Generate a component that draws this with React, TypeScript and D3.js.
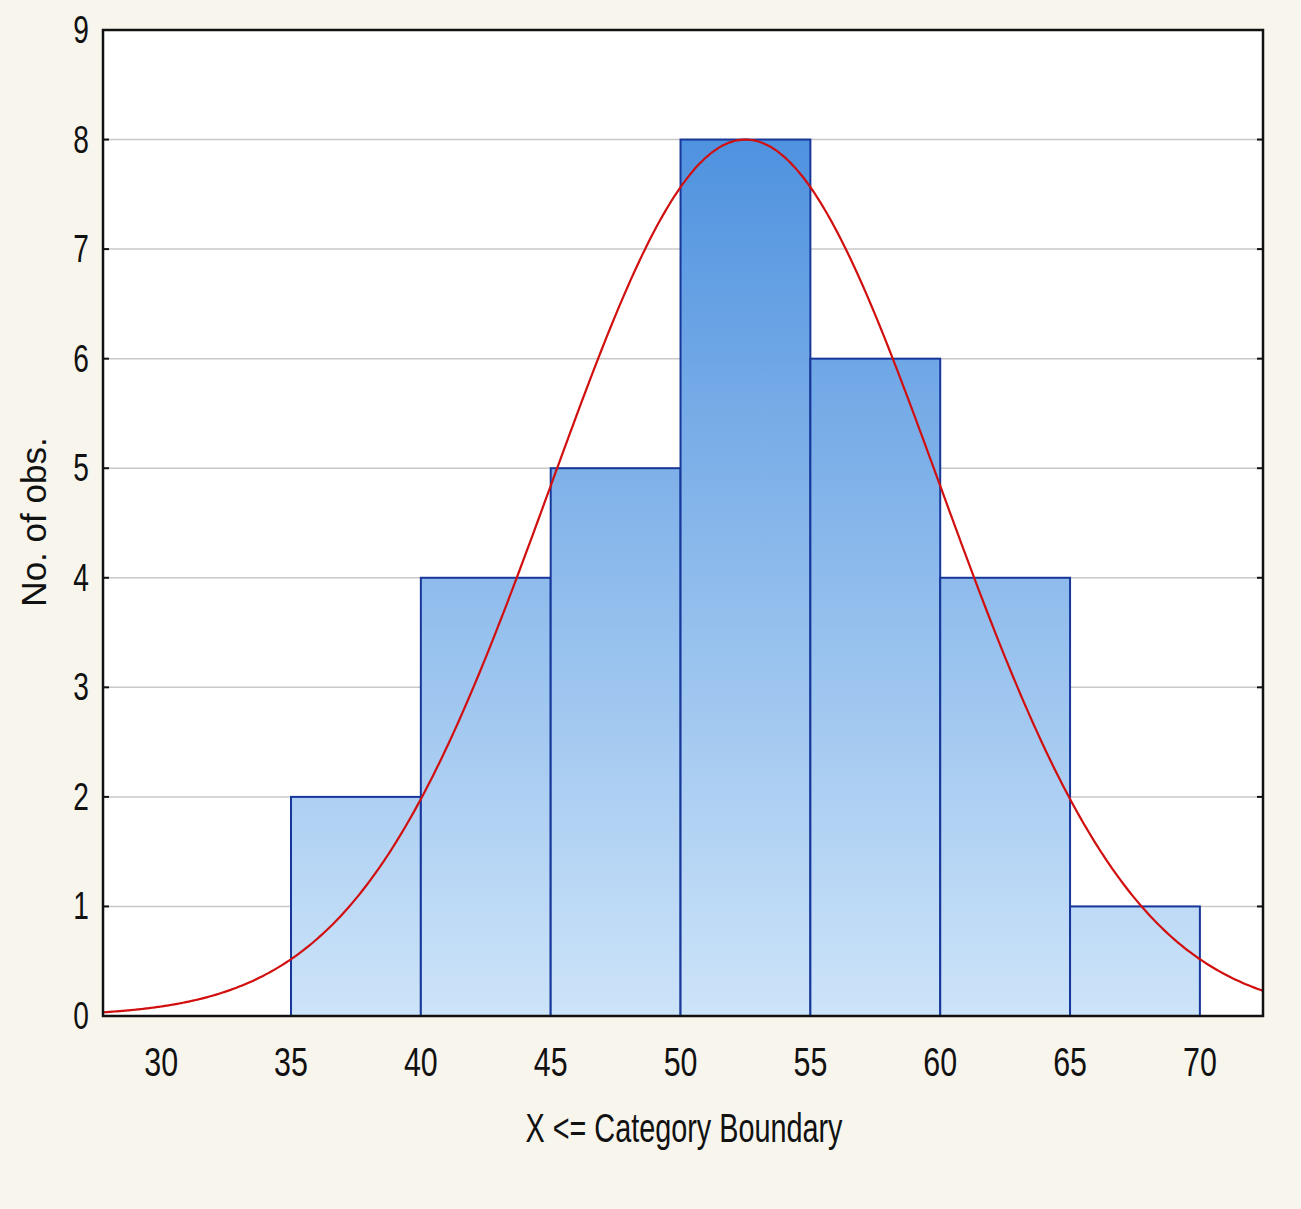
import React, { useEffect, useRef } from "react";
import * as d3 from "d3";

// histogram bins: upper boundaries and counts (X <= boundary)
const binStarts = [35, 40, 45, 50, 55, 60, 65];
const binWidth = 5;
const counts = [2, 4, 5, 8, 6, 4, 1];
const xTicks = [30, 35, 40, 45, 50, 55, 60, 65, 70];
const yTicks = [0, 1, 2, 3, 4, 5, 6, 7, 8, 9];

// fitted normal curve parameters
const fitMean = 52.5;
const fitSd = 7.48;
const xMin = 27.76;
const xMax = 72.43;

const W = 1301;
const H = 1209;
const FONT = "'Liberation Sans', Arial, sans-serif";

function App() {
  const svgRef = useRef<SVGSVGElement>(null);

  useEffect(() => {
    const svg = d3.select(svgRef.current);
    svg.selectAll("*").remove();

    const left = 103;
    const right = 1263;
    const top = 30;
    const bottom = 1016;

    const x = d3.scaleLinear().domain([xMin, xMax]).range([left, right]);
    const y = d3.scaleLinear().domain([0, 9]).range([bottom, top]);

    const defs = svg.append("defs");
    const grad = defs
      .append("linearGradient")
      .attr("id", "barFill")
      .attr("gradientUnits", "userSpaceOnUse")
      .attr("x1", 0)
      .attr("x2", 0)
      .attr("y1", y(8))
      .attr("y2", y(0));
    grad.append("stop").attr("offset", "0%").attr("stop-color", "#4f92df");
    grad.append("stop").attr("offset", "100%").attr("stop-color", "#cde4f9");

    svg.append("rect").attr("width", W).attr("height", H).attr("fill", "#f8f5ed");

    svg
      .append("rect")
      .attr("x", left)
      .attr("y", top)
      .attr("width", right - left)
      .attr("height", bottom - top)
      .attr("fill", "#ffffff");

    // grid
    svg
      .append("g")
      .selectAll("line")
      .data(yTicks.slice(1, -1))
      .join("line")
      .attr("x1", left)
      .attr("x2", right)
      .attr("y1", (d) => y(d))
      .attr("y2", (d) => y(d))
      .attr("stroke", "#c8c8c8")
      .attr("stroke-width", 1.5);

    // bars
    svg
      .append("g")
      .selectAll("rect")
      .data(counts)
      .join("rect")
      .attr("x", (_, i) => x(binStarts[i]))
      .attr("width", (_, i) => x(binStarts[i] + binWidth) - x(binStarts[i]))
      .attr("y", (d) => y(d))
      .attr("height", (d) => y(0) - y(d))
      .attr("fill", "url(#barFill)")
      .attr("stroke", "#17389a")
      .attr("stroke-width", 2);

    // normal fit scaled to counts
    const n = d3.sum(counts);
    const pdf = (v: number) =>
      (n * binWidth) / (fitSd * Math.sqrt(2 * Math.PI)) *
      Math.exp(-((v - fitMean) ** 2) / (2 * fitSd * fitSd));
    const pts = d3.range(0, 401).map((i) => {
      const v = xMin + (i / 400) * (xMax - xMin);
      return [v, pdf(v)] as [number, number];
    });
    svg
      .append("path")
      .datum(pts)
      .attr("fill", "none")
      .attr("stroke", "#d10f0f")
      .attr("stroke-width", 2.2)
      .attr(
        "d",
        d3
          .line<[number, number]>()
          .x((d) => x(d[0]))
          .y((d) => y(d[1]))
          .curve(d3.curveBasis)
      );

    // frame
    svg
      .append("rect")
      .attr("x", left)
      .attr("y", top)
      .attr("width", right - left)
      .attr("height", bottom - top)
      .attr("fill", "none")
      .attr("stroke", "#111")
      .attr("stroke-width", 2.5);

    // inward ticks on both vertical axes
    const ticks = svg.append("g").attr("stroke", "#111").attr("stroke-width", 2);
    ticks
      .selectAll(".tl")
      .data(yTicks)
      .join("line")
      .attr("x1", left)
      .attr("x2", left + 6)
      .attr("y1", (d) => y(d))
      .attr("y2", (d) => y(d));
    ticks
      .selectAll(".tr")
      .data(yTicks)
      .join("line")
      .attr("x1", right - 6)
      .attr("x2", right)
      .attr("y1", (d) => y(d))
      .attr("y2", (d) => y(d));

    // condensed labels: regular face squeezed horizontally
    svg
      .append("g")
      .selectAll("text")
      .data(yTicks)
      .join("text")
      .attr("transform", (d) => `translate(89, ${y(d) + 13}) scale(0.74, 1)`)
      .attr("text-anchor", "end")
      .attr("font-family", FONT)
      .attr("font-size", 38)
      .attr("fill", "#111")
      .text((d) => d);

    svg
      .append("g")
      .selectAll("text")
      .data(xTicks)
      .join("text")
      .attr("transform", (d) => `translate(${x(d)}, 1076) scale(0.76, 1)`)
      .attr("text-anchor", "middle")
      .attr("font-family", FONT)
      .attr("font-size", 40)
      .attr("fill", "#111")
      .text((d) => d);

    svg
      .append("text")
      .attr("transform", "translate(684, 1142) scale(0.72, 1)")
      .attr("text-anchor", "middle")
      .attr("font-family", FONT)
      .attr("font-size", 40)
      .attr("fill", "#111")
      .text("X <= Category Boundary");

    svg
      .append("text")
      .attr("transform", "translate(46, 522) rotate(-90)")
      .attr("text-anchor", "middle")
      .attr("font-family", FONT)
      .attr("font-size", 35)
      .attr("fill", "#111")
      .text("No. of obs.");
  }, []);

  return (
    <svg
      ref={svgRef}
      width={W}
      height={H}
      style={{ position: "absolute", left: 0, top: 0 }}
    />
  );
}

export default App;
